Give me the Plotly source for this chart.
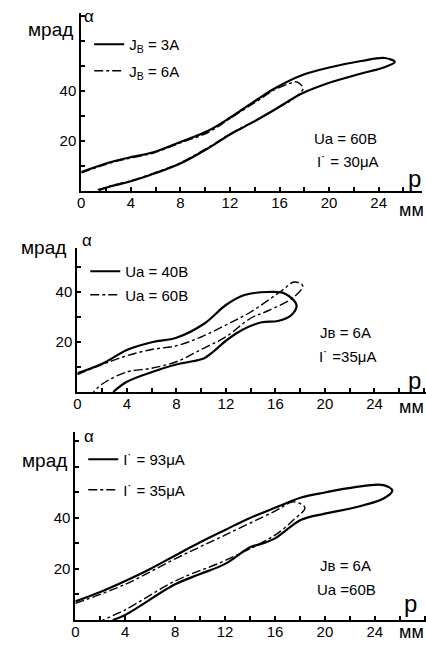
import plotly.graph_objects as go

# ---------------- data ----------------
x_tickvals = [0, 4, 8, 12, 16, 20, 24]
x_ticktext = ["0", "4", "8", "12", "16", "20", "24"]
y_tickvals = [20, 40]
y_ticktext = ["20", "40"]

# Panel 1: J_B = 3A (solid), J_B = 6A (dash-dot)
p1_a_x = [0, 2.4, 3.8, 5.9, 8, 10.2, 12, 13, 14.2, 15.6, 17.8, 20.2, 22.6, 24.5, 25.3,
          24.4, 22.6, 20.2, 17.8, 15.6, 14.2, 13, 12, 10.2, 8, 5.9, 3.8, 2.4, 1.4]
p1_a_y = [7.6, 11.6, 13.3, 15.6, 19.6, 24, 29.3, 32.6, 36.6, 41, 46.3, 49.6, 52, 53.2, 51.6,
          49.4, 47, 43.6, 39, 32.5, 28.5, 25.3, 22.6, 17, 11, 7, 3.6, 1.9, 0.3]
p1_b_x = [0, 2.4, 3.8, 5.9, 8, 10.2, 12, 14.2, 15.6, 16.8, 17.4, 17.9,
          17, 15.6, 14.2, 12, 10.2, 8, 5.9, 3.8, 2.4, 1.2]
p1_b_y = [7.3, 11.3, 13, 15.3, 19.3, 23.3, 29, 36, 40.5, 43, 43.6, 41,
          36.5, 32.6, 28.6, 22.8, 17.3, 11.3, 7.2, 3.8, 2.1, 0.3]

# Panel 2: Ua = 40B (solid), Ua = 60B (dash-dot)
p2_a_x = [0, 2.1, 4, 6.1, 8, 10.3, 12, 13.5, 15.4, 16.7, 17.7,
          17.3, 16.2, 14.9, 13.3, 12, 11, 10.2, 9.3, 8, 6.1, 4, 2.9]
p2_a_y = [7.5, 11.5, 16.8, 20, 21.7, 27.5, 34.8, 38.8, 40, 39.5, 34.8,
          30.8, 28.4, 27.9, 24.8, 20.5, 16.2, 13.4, 12.3, 11, 8.1, 4.1, 0]
p2_b_x = [0, 2, 4, 6, 8, 10, 12, 14, 16.5, 17.5, 18.2,
          17.5, 15.4, 14, 12, 10, 8, 6, 4, 2.1, 1.3]
p2_b_y = [7, 11, 14.5, 17, 18.5, 22, 26.8, 32, 40.5, 44, 42.5,
          38, 32.5, 29.5, 22.1, 17, 12.1, 9.5, 8, 3.5, 0]

# Panel 3: I = 93 мкА (solid), I = 35 мкА (dash-dot)
p3_a_x = [0, 2, 4, 6, 8, 10, 12, 14, 16, 18.1, 20, 22.3, 24.7, 25.4,
          24.7, 22.3, 20, 18.1, 16, 15, 14, 12, 10, 8, 4, 3]
p3_a_y = [7.3, 11, 15.3, 20, 25.3, 30.5, 35.3, 40, 44, 48, 50, 52, 52.9, 50.7,
          47.6, 44, 41.7, 39.3, 32, 30, 28.5, 22, 18, 14, 2, 0]
p3_b_x = [0, 4, 8, 12, 16, 17.5, 18.4,
          17.5, 16, 12, 8, 4, 2.2]
p3_b_y = [6.5, 14, 24, 33.3, 42.7, 46.3, 44,
          39.3, 33.3, 23.3, 15.3, 4, 0]

labels_1 = ["J<sub>В</sub> = 3А", "J<sub>В</sub> = 6А"]
labels_2 = ["Ua = 40В", "Ua = 60В"]
labels_3 = ["I˙ = 93μА", "I˙ = 35μА"]

W, H = 426, 648
FONT = "Liberation Sans"


def px_x(p):
    return p / W


def px_y(p):
    return 1 - p / H


fig = go.Figure()

panels = [
    (p1_a_x, p1_a_y, p1_b_x, p1_b_y, labels_1, "legend", "x", "y"),
    (p2_a_x, p2_a_y, p2_b_x, p2_b_y, labels_2, "legend2", "x2", "y2"),
    (p3_a_x, p3_a_y, p3_b_x, p3_b_y, labels_3, "legend3", "x3", "y3"),
]

for k, (ax, ay, bx, by, labs, leg, xa, ya) in enumerate(panels):
    fig.add_trace(go.Scatter(x=ax, y=ay, mode="lines", name=labs[0], legendgroup=f"a{k}",
                             line=dict(color="black", width=2.2, shape="spline", smoothing=1.0),
                             legend=leg, xaxis=xa, yaxis=ya))
    fig.add_trace(go.Scatter(x=bx, y=by, mode="lines", name=labs[1], legendgroup=f"b{k}",
                             line=dict(color="black", width=1.4, dash="dashdot", shape="spline", smoothing=1.0),
                             legend=leg, xaxis=xa, yaxis=ya))

geo = [
    # x0px, x1px, xmax, ytop_px, ybot_px, ymax
    (78, 422, 27.5, 13, 191, 71.2),
    (74, 426, 28.16, 248, 392, 57.6),
    (72, 426, 28.1, 432, 620, 73.7),
]

common = dict(showgrid=False, zeroline=False, showline=True, linecolor="black",
              linewidth=2, ticks="inside", ticklen=4, tickwidth=1.5, tickcolor="black",
              tickfont=dict(family=FONT, size=15, color="black"), fixedrange=True)

for i, (x0, x1, xmax, yt, yb, ymax) in enumerate(geo):
    sfx = "" if i == 0 else str(i + 1)
    fig.update_layout(**{
        "xaxis" + sfx: dict(domain=[px_x(x0), px_x(x1)], range=[0, xmax],
                            anchor="y" + sfx, tickmode="array", tickvals=x_tickvals,
                            ticktext=x_ticktext, ticklabelstandoff=-3,
                            minor=dict(tickmode="linear", tick0=0, dtick=2, ticks="inside",
                                       ticklen=4, tickwidth=1.5, tickcolor="black"),
                            **common),
        "yaxis" + sfx: dict(domain=[px_y(yb), px_y(yt)], range=[0, ymax],
                            anchor="x" + sfx, tickmode="array", tickvals=y_tickvals,
                            ticktext=y_ticktext,
                            minor=dict(tickmode="linear", tick0=0, dtick=10, ticks="inside",
                                       ticklen=4, tickwidth=1.5, tickcolor="black"),
                            **common),
    })

leg_common = dict(font=dict(family=FONT, size=15, color="black"), bgcolor="rgba(0,0,0,0)",
                  xanchor="left", yanchor="top", itemwidth=30, traceorder="grouped")
fig.update_layout(
    legend=dict(x=px_x(86), y=px_y(28), tracegroupgap=4, **leg_common),
    legend2=dict(x=px_x(82), y=px_y(255), tracegroupgap=1, **leg_common),
    legend3=dict(x=px_x(80), y=px_y(443), tracegroupgap=8, **leg_common),
)

texts = [
    ("мрад", 47, 30, 19),
    ("α", 86, 16, 17),
    ("Ua = 60В", 345, 139, 15),
    ("I˙ = 30μА", 347, 161, 15),
    ("р", 414, 178, 24),
    ("мм", 411, 210, 18),
    ("мрад", 40, 248, 19),
    ("α", 84, 240, 17),
    ("Jв = 6А", 345, 332, 15),
    ("I˙ =35μА", 347, 356, 15),
    ("р", 414, 380, 24),
    ("мм", 411, 407, 18),
    ("мрад", 41, 460, 19),
    ("α", 86, 436, 17),
    ("Jв = 6А", 345, 565, 15),
    ("Ua =60В", 346, 589, 15),
    ("р", 410, 603, 24),
    ("мм", 411, 632, 18),
]
for t, xp, yp, fs in texts:
    fig.add_annotation(text=t, x=px_x(xp), y=px_y(yp), xref="paper", yref="paper",
                       showarrow=False, xanchor="center", yanchor="middle",
                       font=dict(family=FONT, size=fs, color="black"))

fig.update_layout(width=W, height=H, margin=dict(l=0, r=0, t=0, b=0),
                  paper_bgcolor="white", plot_bgcolor="white", showlegend=True,
                  hovermode=False)

fig.write_html("out.html", config={"displayModeBar": False},
               post_script="document.body.style.margin='0';")
